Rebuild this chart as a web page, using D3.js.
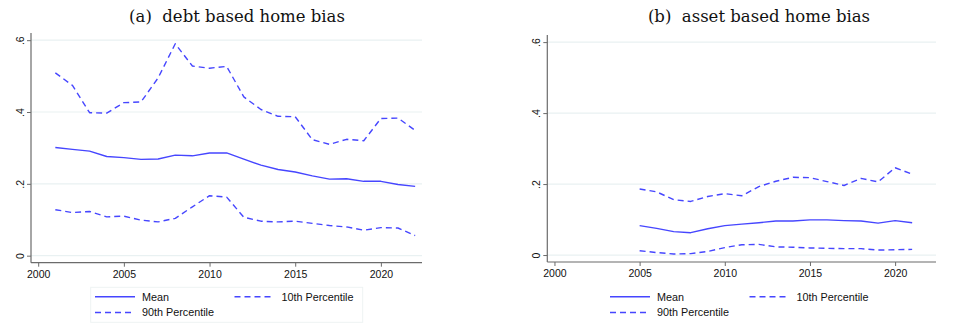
<!DOCTYPE html>
<html>
<head>
<meta charset="utf-8">
<script src="https://cdn.jsdelivr.net/npm/d3@7"></script>
<style>
  html, body { margin: 0; padding: 0; background: #fff; }
  svg { display: block; }
  .ttl { white-space: pre; }
</style>
</head>
<body>
<div id="chart"></div>
<script>
// ---- data ----
const titles = ["(a)  debt based home bias", "(b)  asset based home bias"];
const seriesNames = ["Mean", "10th Percentile", "90th Percentile"];
const xTicks = [2000, 2005, 2010, 2015, 2020];
const yTicks = [0, 0.2, 0.4, 0.6];
const yTickLabels = ["0", ".2", ".4", ".6"];

const yearsDebt = [2001,2002,2003,2004,2005,2006,2007,2008,2009,2010,2011,2012,2013,2014,2015,2016,2017,2018,2019,2020,2021,2022];
const meanDebt = [0.301,0.296,0.291,0.276,0.273,0.268,0.269,0.280,0.278,0.286,0.286,0.269,0.252,0.240,0.233,0.222,0.213,0.214,0.207,0.207,0.198,0.193];
const p10Debt  = [0.128,0.120,0.123,0.108,0.110,0.099,0.094,0.104,0.136,0.167,0.163,0.107,0.096,0.094,0.096,0.090,0.084,0.080,0.071,0.078,0.077,0.056];
const p90Debt  = [0.509,0.474,0.398,0.397,0.426,0.428,0.495,0.590,0.528,0.522,0.527,0.442,0.407,0.388,0.387,0.323,0.310,0.324,0.320,0.382,0.383,0.349];

const yearsAsset = [2005,2006,2007,2008,2009,2010,2011,2012,2013,2014,2015,2016,2017,2018,2019,2020,2021];
const meanAsset = [0.083,0.075,0.066,0.063,0.074,0.083,0.087,0.091,0.096,0.096,0.099,0.099,0.097,0.096,0.090,0.097,0.091];
const p10Asset  = [0.012,0.007,0.003,0.004,0.010,0.021,0.029,0.030,0.023,0.022,0.020,0.019,0.018,0.018,0.014,0.015,0.016];
const p90Asset  = [0.186,0.178,0.156,0.151,0.165,0.173,0.167,0.193,0.208,0.219,0.218,0.207,0.196,0.216,0.206,0.246,0.228];

// ---- drawing ----
const W = 971, H = 333;
const blue = "#4646ff";
const axisCol = "#6b6b6b";
const gridCol = "#e9f1f2";
const sansFont = "'Liberation Sans', Arial, sans-serif";

const svg = d3.select("#chart").append("svg").attr("width", W).attr("height", H);

const panels = [
  { title: titles[0], titleX: 237, years: yearsDebt, mean: meanDebt, p10: p10Debt, p90: p90Debt,
    left: 31, right: 422, top: 33, bottom: 262.7, legendX: 95, legendBox: [90.7, 287.3, 272, 35] },
  { title: titles[1], titleX: 759, years: yearsAsset, mean: meanAsset, p10: p10Asset, p90: p90Asset,
    left: 547.3, right: 936, top: 35, bottom: 262, legendX: 610, legendBox: null }
];

panels.forEach(p => {
  const g = svg.append("g");
  const x = d3.scaleLinear().domain([1999.58, 2022.4]).range([p.left, p.right]);
  const y = d3.scaleLinear().domain([-0.0196, 0.62]).range([p.bottom, p.top]);

  // title
  g.append("text")
    .attr("class", "ttl")
    .attr("x", p.titleX).attr("y", 22)
    .attr("text-anchor", "middle")
    .attr("font-family", "'DejaVu Serif', serif")
    .attr("font-size", 16.5)
    .attr("fill", "#111")
    .text(p.title);

  // gridlines
  g.append("g").selectAll("line").data(yTicks).join("line")
    .attr("x1", p.left).attr("x2", p.right)
    .attr("y1", d => y(d)).attr("y2", d => y(d))
    .attr("stroke", gridCol).attr("stroke-width", 1.2);

  // y axis
  const yAxis = d3.axisLeft(y).tickValues(yTicks).tickSize(4).tickPadding(3)
    .tickFormat((d, i) => yTickLabels[i]);
  const ya = g.append("g").attr("transform", `translate(${p.left},0)`).call(yAxis);
  ya.select(".domain").attr("d", `M0,${p.top}V${p.bottom}`).attr("stroke", axisCol).attr("stroke-width", 1.2);
  ya.selectAll(".tick line").attr("stroke", axisCol).attr("stroke-width", 1);
  ya.selectAll(".tick text")
    .attr("font-family", sansFont).attr("font-size", 10.5).attr("fill", "#111")
    .attr("x", null)
    .attr("text-anchor", "middle")
    .attr("transform", "translate(-11,0) rotate(-90)")
    .attr("dy", "0.35em");

  // x axis
  const xAxis = d3.axisBottom(x).tickValues(xTicks).tickSize(4).tickPadding(4).tickFormat(d3.format("d"));
  const xa = g.append("g").attr("transform", `translate(0,${p.bottom})`).call(xAxis);
  xa.select(".domain").attr("d", `M${p.left},0H${p.right}`).attr("stroke", axisCol).attr("stroke-width", 1.2);
  xa.selectAll(".tick line").attr("stroke", axisCol).attr("stroke-width", 1);
  xa.selectAll(".tick text").attr("font-family", sansFont).attr("font-size", 10.5).attr("fill", "#111");

  // lines
  const line = d3.line().x((d, i) => x(p.years[i])).y(d => y(d));
  const series = [
    { vals: p.mean, dash: null },
    { vals: p.p10, dash: "6,4" },
    { vals: p.p90, dash: "6,4" }
  ];
  series.forEach(s => {
    g.append("path").datum(s.vals)
      .attr("d", line)
      .attr("fill", "none")
      .attr("stroke", blue)
      .attr("stroke-width", 1.4)
      .attr("stroke-linejoin", "round")
      .attr("stroke-dasharray", s.dash);
  });

  // legend
  const lg = g.append("g");
  if (p.legendBox) {
    lg.append("rect")
      .attr("x", p.legendBox[0]).attr("y", p.legendBox[1])
      .attr("width", p.legendBox[2]).attr("height", p.legendBox[3])
      .attr("fill", "#fff").attr("stroke", "#eef3f3").attr("stroke-width", 1);
  }
  const items = [
    { name: seriesNames[0], dash: null, col: 0, row: 0 },
    { name: seriesNames[1], dash: "6,4", col: 1, row: 0 },
    { name: seriesNames[2], dash: "6,4", col: 0, row: 1 }
  ];
  items.forEach(it => {
    const lx = p.legendX + it.col * 139.5;
    const ly = 296.8 + it.row * 15.7;
    lg.append("line")
      .attr("x1", lx).attr("x2", lx + 40)
      .attr("y1", ly).attr("y2", ly)
      .attr("stroke", blue).attr("stroke-width", 1.4)
      .attr("stroke-dasharray", it.dash);
    lg.append("text")
      .attr("x", lx + 47).attr("y", ly)
      .attr("dy", "0.35em")
      .attr("font-family", sansFont).attr("font-size", 10.8).attr("fill", "#111")
      .text(it.name);
  });
});
</script>
</body>
</html>
